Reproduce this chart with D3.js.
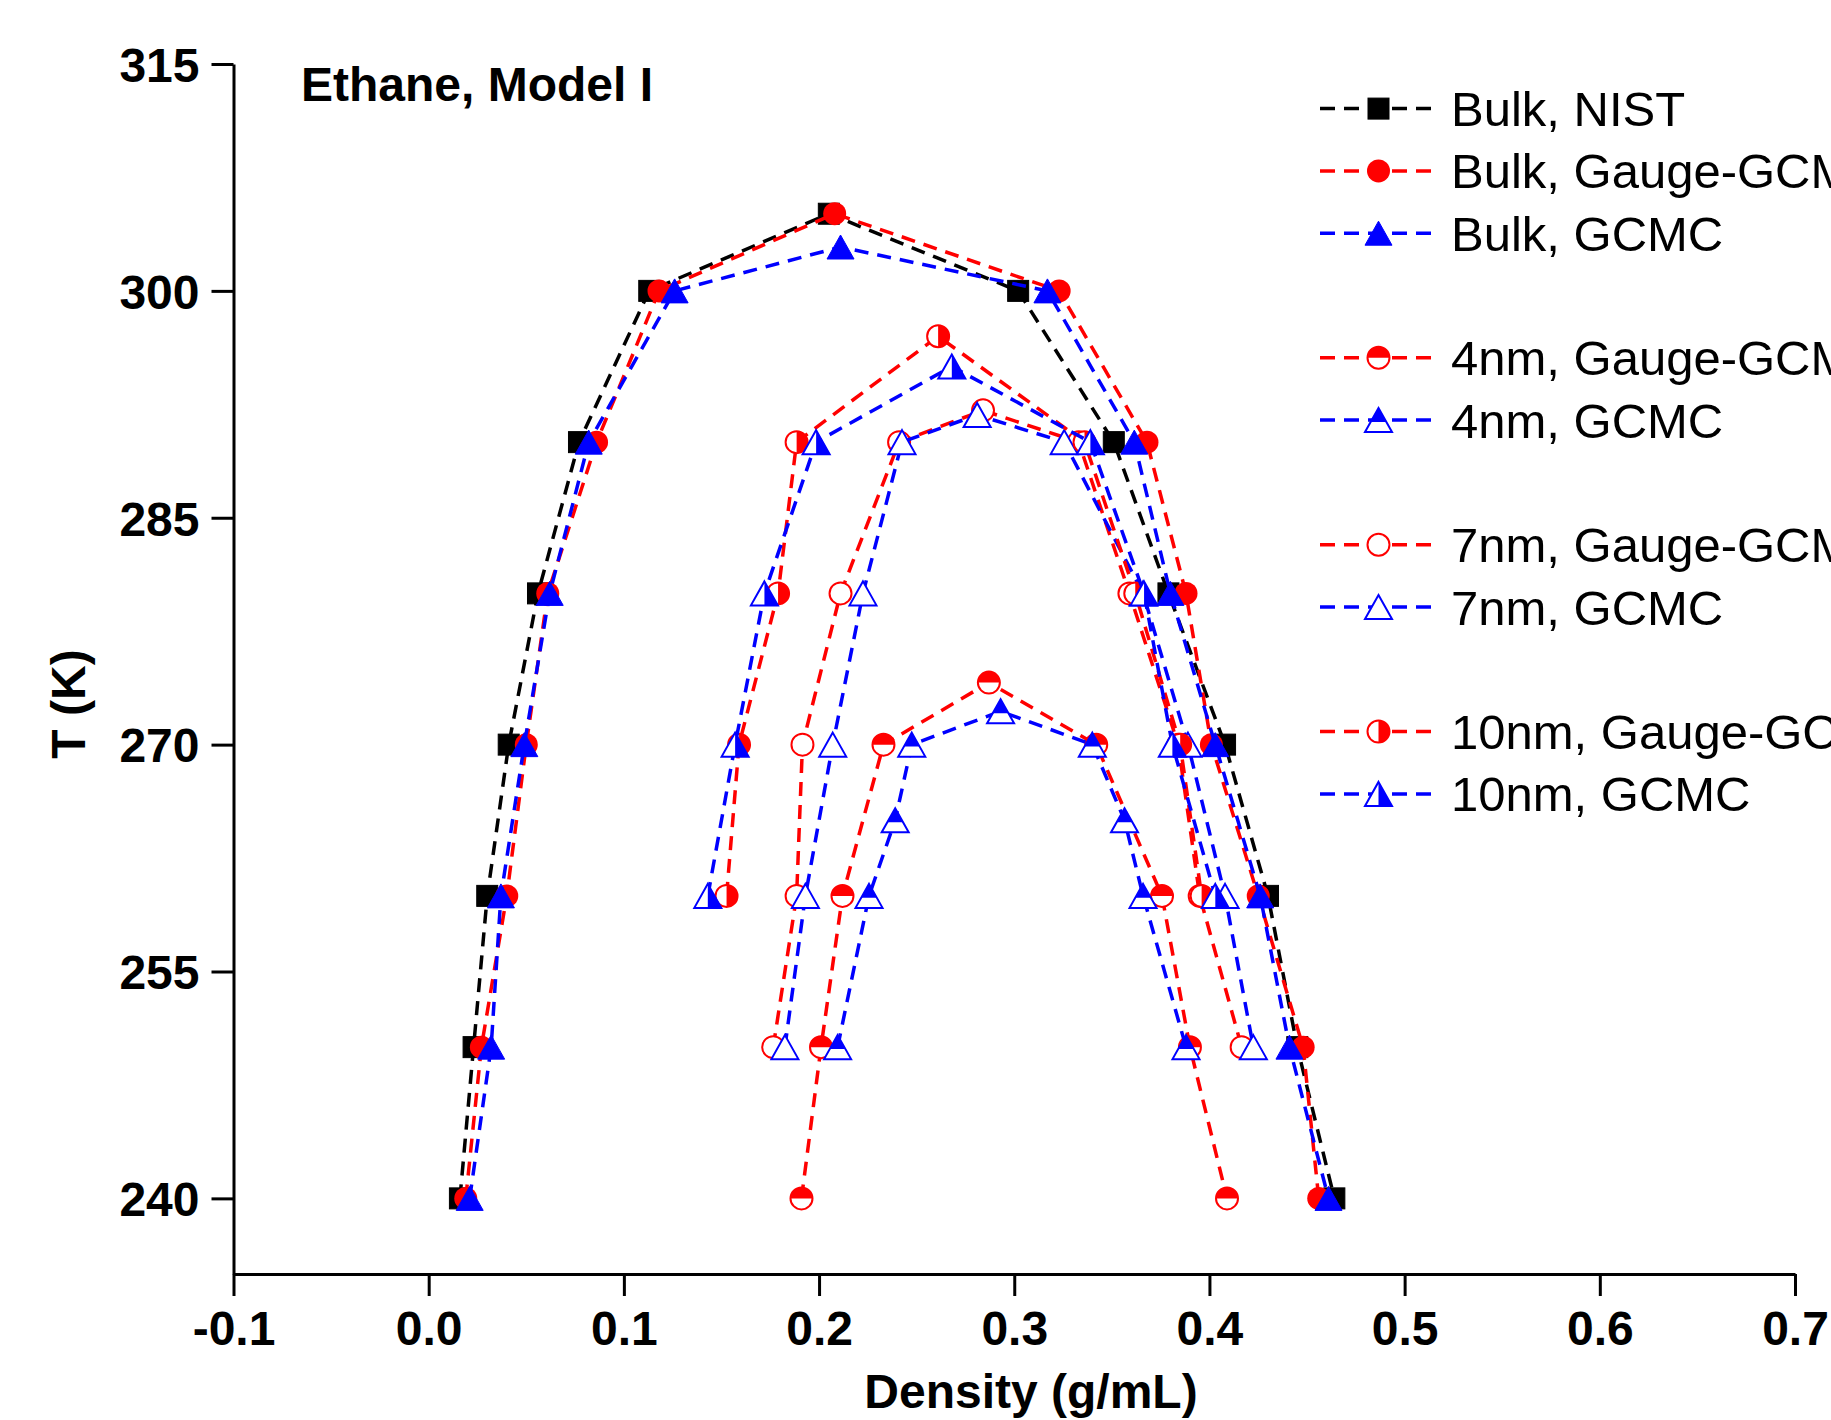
<!DOCTYPE html>
<html>
<head>
<meta charset="utf-8">
<script src="https://cdn.jsdelivr.net/npm/d3@7"></script>
<style>
  html, body { margin: 0; padding: 0; background: #fff; overflow: hidden; }
  svg { display: block; }
  text { font-family: "Liberation Sans", Arial, sans-serif; }
</style>
</head>
<body>
<svg id="chart" width="1831" height="1420"></svg>
<script>
// ---------------- DATA ----------------
const densityTicks = [-0.1, 0.0, 0.1, 0.2, 0.3, 0.4, 0.5, 0.6, 0.7];
const tempTicks = [240, 255, 270, 285, 300, 315];

const seriesNames = [
  "Bulk, NIST", "Bulk, Gauge-GCMC", "Bulk, GCMC",
  "4nm, Gauge-GCMC", "4nm, GCMC",
  "7nm, Gauge-GCMC", "7nm, GCMC",
  "10nm, Gauge-GCMC", "10nm, GCMC"
];

const T_bulkNIST   = [240, 250, 260, 270, 280, 290, 300, 305.1, 300, 290, 280, 270, 260, 250, 240];
const rho_bulkNIST = [0.016, 0.023, 0.030, 0.041, 0.056, 0.077, 0.113, 0.205, 0.302, 0.351, 0.379, 0.408, 0.430, 0.445, 0.464];

const T_bulkGauge   = [240, 250, 260, 270, 280, 290, 300, 305.1, 300, 290, 280, 270, 260, 250, 240];
const rho_bulkGauge = [0.019, 0.027, 0.040, 0.050, 0.061, 0.086, 0.118, 0.208, 0.323, 0.368, 0.388, 0.401, 0.425, 0.448, 0.456];

const T_bulkGCMC   = [240, 250, 260, 270, 280, 290, 300, 302.9, 300, 290, 280, 270, 260, 250, 240];
const rho_bulkGCMC = [0.021, 0.032, 0.037, 0.049, 0.062, 0.082, 0.126, 0.211, 0.317, 0.3615, 0.380, 0.403, 0.426, 0.441, 0.461];

const T_4nmGauge   = [240, 250, 260, 270, 274.1, 270, 260, 250, 240];
const rho_4nmGauge = [0.191, 0.201, 0.212, 0.233, 0.287, 0.342, 0.3757, 0.390, 0.409];

const T_4nmGCMC   = [250, 260, 265, 270, 272.2, 270, 265, 260, 250];
const rho_4nmGCMC = [0.2095, 0.2256, 0.239, 0.2475, 0.293, 0.340, 0.3565, 0.366, 0.388];

const T_7nmGauge   = [250, 260, 270, 280, 290, 292.1, 290, 280, 270, 260, 250];
const rho_7nmGauge = [0.1765, 0.1885, 0.1915, 0.211, 0.241, 0.284, 0.333, 0.359, 0.384, 0.395, 0.4165];

const T_7nmGCMC   = [250, 260, 270, 280, 290, 291.8, 290, 280, 270, 260, 250];
const rho_7nmGCMC = [0.1825, 0.193, 0.207, 0.2225, 0.2425, 0.281, 0.3256, 0.366, 0.389, 0.408, 0.4225];

const T_10nmGauge   = [260, 270, 280, 290, 297.0, 290, 280, 270, 260];
const rho_10nmGauge = [0.1526, 0.159, 0.179, 0.1885, 0.261, 0.336, 0.362, 0.385, 0.396];

const T_10nmGCMC   = [260, 270, 280, 290, 295.0, 290, 280, 270, 260];
const rho_10nmGCMC = [0.143, 0.157, 0.172, 0.1985, 0.268, 0.339, 0.3665, 0.381, 0.403];

// ---------------- SETUP ----------------
const svg = d3.select("#chart");
svg.append("rect").attr("width", 1831).attr("height", 1420).attr("fill", "#fff");

const x = d3.scaleLinear().domain([-0.1, 0.7]).range([233.5, 1795]);
const y = d3.scaleLinear().domain([235, 315]).range([1274, 64]);

const RED = "#ff0000", BLUE = "#0000ff", BLACK = "#000000";

const styles = [
  { color: BLACK, shape: "square",   fill: "full" },
  { color: RED,   shape: "circle",   fill: "full" },
  { color: BLUE,  shape: "triangle", fill: "full" },
  { color: RED,   shape: "circle",   fill: "top" },
  { color: BLUE,  shape: "triangle", fill: "top" },
  { color: RED,   shape: "circle",   fill: "none" },
  { color: BLUE,  shape: "triangle", fill: "none" },
  { color: RED,   shape: "circle",   fill: "right" },
  { color: BLUE,  shape: "triangle", fill: "right" }
];

const Ts   = [T_bulkNIST, T_bulkGauge, T_bulkGCMC, T_4nmGauge, T_4nmGCMC, T_7nmGauge, T_7nmGCMC, T_10nmGauge, T_10nmGCMC];
const rhos = [rho_bulkNIST, rho_bulkGauge, rho_bulkGCMC, rho_4nmGauge, rho_4nmGCMC, rho_7nmGauge, rho_7nmGCMC, rho_10nmGauge, rho_10nmGCMC];

const series = seriesNames.map((name, i) => ({
  name, ...styles[i],
  points: Ts[i].map((t, j) => ({ T: t, rho: rhos[i][j] }))
}));

// marker geometry
const R = 11;            // circle radius
const SQ = 21;           // square side
const TW = 27, TH = 24;  // triangle
const DASH = "14,9";

function drawMarker(g, s) {
  const c = s.color;
  if (s.shape === "square") {
    g.append("rect").attr("x", -SQ/2).attr("y", -SQ/2).attr("width", SQ).attr("height", SQ)
      .attr("fill", c).attr("stroke", c).attr("stroke-width", 1);
    return;
  }
  if (s.shape === "circle") {
    if (s.fill === "full") {
      g.append("circle").attr("r", R + 0.5).attr("fill", c).attr("stroke", "none");
      return;
    }
    g.append("circle").attr("r", R).attr("fill", "#fff").attr("stroke", "none");
    if (s.fill === "top") {
      g.append("path").attr("d", `M${-R},0 A${R},${R} 0 0 1 ${R},0 Z`).attr("fill", c);
    } else if (s.fill === "right") {
      g.append("path").attr("d", `M0,${-R} A${R},${R} 0 0 1 0,${R} Z`).attr("fill", c);
    }
    g.append("circle").attr("r", R).attr("fill", "none").attr("stroke", c).attr("stroke-width", 2);
    return;
  }
  // triangle
  const h2 = TH / 2, w2 = TW / 2;
  const tri = `M0,${-h2} L${w2},${h2} L${-w2},${h2} Z`;
  if (s.fill === "full") {
    g.append("path").attr("d", tri).attr("fill", c).attr("stroke", c).attr("stroke-width", 1);
    return;
  }
  g.append("path").attr("d", tri).attr("fill", "#fff").attr("stroke", "none");
  if (s.fill === "top") {
    const ys = -h2 + TH * 0.58;
    const hw = w2 * 0.58;
    g.append("path").attr("d", `M0,${-h2} L${hw},${ys} L${-hw},${ys} Z`).attr("fill", c);
  } else if (s.fill === "right") {
    g.append("path").attr("d", `M0,${-h2} L${w2},${h2} L0,${h2} Z`).attr("fill", c);
  }
  g.append("path").attr("d", tri).attr("fill", "none").attr("stroke", c).attr("stroke-width", 2)
    .attr("stroke-linejoin", "miter");
}

// ---------------- AXES ----------------
const fmtX = d => d3.format(".1f")(d).replace("\u2212", "-");
const yAxis = d3.axisLeft(y).tickValues(tempTicks).tickSize(22).tickSizeOuter(0).tickPadding(12)
  .tickFormat(d3.format("d"));
const gy = svg.append("g").attr("transform", "translate(233.5,0)").call(yAxis);

const xAxis = d3.axisBottom(x).tickValues(densityTicks).tickSize(22).tickSizeOuter(0)
  .tickFormat(fmtX);
const gx = svg.append("g").attr("transform", "translate(0,1274)").call(xAxis);

[gx, gy].forEach(g => {
  g.select(".domain").attr("stroke", "#000").attr("stroke-width", 3);
  g.selectAll(".tick line").attr("stroke", "#000").attr("stroke-width", 3);
  g.selectAll(".tick text").attr("fill", "#000")
    .style("font-family", '"Liberation Sans", Arial, sans-serif')
    .style("font-weight", "bold").style("font-size", "48px");
});
gx.selectAll(".tick text").attr("y", 71).attr("dy", null);
gy.selectAll(".tick text").attr("dy", "0.36em");

// axis titles
svg.append("text").attr("x", 1031).attr("y", 1408).attr("text-anchor", "middle")
  .style("font-weight", "bold").style("font-size", "48px").text("Density (g/mL)");
svg.append("text").attr("transform", "translate(85,704) rotate(-90)").attr("text-anchor", "middle")
  .style("font-weight", "bold").style("font-size", "48px").text("T (K)");

// chart label
svg.append("text").attr("x", 301).attr("y", 101)
  .style("font-weight", "bold").style("font-size", "48px").text("Ethane, Model I");

// ---------------- SERIES ----------------
const line = d3.line().x(d => x(d.rho)).y(d => y(d.T));
series.forEach(s => {
  const g = svg.append("g");
  g.append("path").datum(s.points).attr("d", line)
    .attr("fill", "none").attr("stroke", s.color).attr("stroke-width", 3.5)
    .attr("stroke-dasharray", DASH);
  s.points.forEach(p => {
    const mg = g.append("g").attr("transform", `translate(${x(p.rho)},${y(p.T)})`);
    drawMarker(mg, s);
  });
});

// ---------------- LEGEND ----------------
const legendRows = [0, 1, 2, 4, 5, 7, 8, 10, 11];
const legY0 = 108.6, legDy = 62.3;
series.forEach((s, i) => {
  const yy = legY0 + legendRows[i] * legDy;
  const g = svg.append("g").attr("transform", `translate(0,${yy})`);
  g.append("line").attr("x1", 1320).attr("x2", 1436).attr("y1", 0).attr("y2", 0)
    .attr("stroke", s.color).attr("stroke-width", 3.5).attr("stroke-dasharray", "15,9");
  const mg = g.append("g").attr("transform", "translate(1378.5,0)");
  drawMarker(mg, s);
  g.append("text").attr("x", 1451).attr("y", 17.5)
    .style("font-size", "49px").attr("fill", "#000").text(s.name);
});
</script>
</body>
</html>
